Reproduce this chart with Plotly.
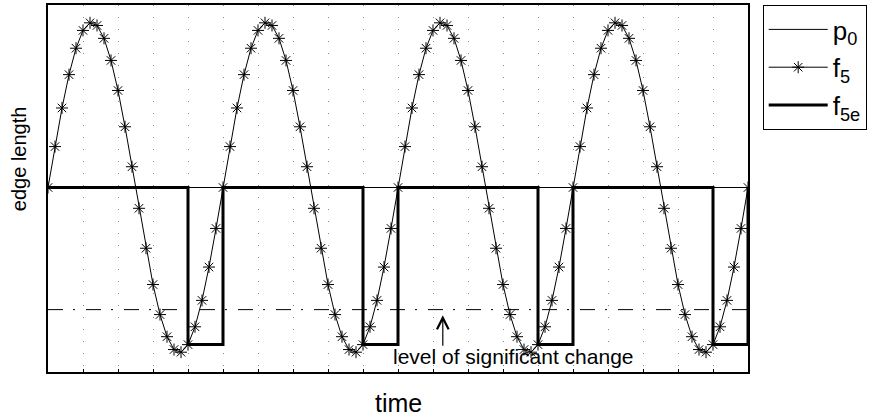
import plotly.graph_objects as go

# sample index (time steps)
t = list(range(101))

# constant reference length
p0_t = [0, 100]
p0 = [1.0, 1.0]

# sampled edge length, four periods of 25 steps
f5 = [
    1.000, 1.124, 1.241, 1.342, 1.422, 1.476, 1.499, 1.491, 1.452, 1.385, 1.294, 1.184, 1.063,
    0.937, 0.816, 0.706, 0.615, 0.548, 0.509, 0.501, 0.524, 0.578, 0.658, 0.759, 0.876,
    1.000, 1.124, 1.241, 1.342, 1.422, 1.476, 1.499, 1.491, 1.452, 1.385, 1.294, 1.184, 1.063,
    0.937, 0.816, 0.706, 0.615, 0.548, 0.509, 0.501, 0.524, 0.578, 0.658, 0.759, 0.876,
    1.000, 1.124, 1.241, 1.342, 1.422, 1.476, 1.499, 1.491, 1.452, 1.385, 1.294, 1.184, 1.063,
    0.937, 0.816, 0.706, 0.615, 0.548, 0.509, 0.501, 0.524, 0.578, 0.658, 0.759, 0.876,
    1.000, 1.124, 1.241, 1.342, 1.422, 1.476, 1.499, 1.491, 1.452, 1.385, 1.294, 1.184, 1.063,
    0.937, 0.816, 0.706, 0.615, 0.548, 0.509, 0.501, 0.524, 0.578, 0.658, 0.759, 0.876,
    1.000,
]

# event-driven estimate, updated every 5 steps
f5e_t = [0, 5, 10, 15, 20, 25, 30, 35, 40, 45, 50, 55, 60, 65, 70, 75, 80, 85, 90, 95, 100]
f5e = [1.0, 1.0, 1.0, 1.0, 0.524, 1.0, 1.0, 1.0, 1.0, 0.524, 1.0, 1.0, 1.0, 1.0, 0.524,
       1.0, 1.0, 1.0, 1.0, 0.524, 1.0]

# threshold for a significant change
level_t = [0, 100]
level = [0.63, 0.63]

FONT = "Liberation Sans, Arial, Helvetica, sans-serif"

fig = go.Figure()

fig.add_trace(go.Scatter(
    x=p0_t, y=p0, mode="lines", name="p<sub>0</sub>",
    line=dict(color="black", width=1),
    legendgroup="a", legendrank=1,
))
fig.add_trace(go.Scatter(
    x=level_t, y=level, mode="lines", showlegend=False,
    line=dict(color="black", width=1, dash="15px,10px,2px,11px"),
))
fig.add_trace(go.Scatter(
    x=f5e_t, y=f5e, mode="lines", name="f<sub>5e</sub>",
    line=dict(color="black", width=3, shape="hv"),
    legendgroup="c", legendrank=3,
))
fig.add_trace(go.Scatter(
    x=t, y=f5, mode="lines+markers", name="f<sub>5</sub>",
    line=dict(color="black", width=1),
    marker=dict(symbol="asterisk-open", size=10, color="black",
                line=dict(color="black", width=1)),
    legendgroup="b", legendrank=2,
))

# upward arrow pointing at the threshold line
fig.add_annotation(
    x=56.4, y=0.613, xref="x", yref="y", text="", showarrow=True,
    ax=0, ay=32, axref="pixel", ayref="pixel",
    arrowhead=5, arrowsize=1.9, arrowwidth=1.2, arrowcolor="black",
)
fig.add_annotation(
    x=49.0, y=0.4865, xref="x", yref="y", text="level of significant change",
    showarrow=False, font=dict(family=FONT, size=21, color="black"),
    xanchor="left", yanchor="middle",
)
fig.add_annotation(
    x=-0.0414, y=0.58, xref="paper", yref="paper", text="edge length",
    textangle=-90, showarrow=False, font=dict(family=FONT, size=20, color="black"),
    xanchor="center", yanchor="middle",
)
fig.add_annotation(
    x=0.5, y=-0.084, xref="paper", yref="paper", text="time",
    showarrow=False, font=dict(family=FONT, size=25, color="black"),
    xanchor="center", yanchor="middle",
)

fig.update_xaxes(
    range=[0, 100], showgrid=True, dtick=5, tick0=0,
    gridcolor="#8a8a8a", griddash="1px,11px", gridwidth=1,
    ticks="inside", ticklen=3, tickwidth=1, tickcolor="black",
    showticklabels=False, zeroline=False,
    showline=True, mirror=True, linecolor="black", linewidth=1.5,
)
fig.update_yaxes(
    range=[0.441, 1.553], showgrid=False, ticks="", showticklabels=False,
    zeroline=False, showline=True, mirror=True, linecolor="black", linewidth=1.5,
)

fig.update_layout(
    width=875, height=417,
    margin=dict(l=48, r=127, t=3, b=45),
    paper_bgcolor="white", plot_bgcolor="white",
    font=dict(family=FONT, color="black"),
    showlegend=True,
    legend=dict(
        x=1.021, y=1.0, xanchor="left", yanchor="top",
        bordercolor="black", borderwidth=1, bgcolor="white",
        font=dict(family=FONT, size=26, color="black"),
        tracegroupgap=1, traceorder="grouped", itemwidth=59,
        entrywidth=47,
    ),
)

fig.write_html("out.html")
